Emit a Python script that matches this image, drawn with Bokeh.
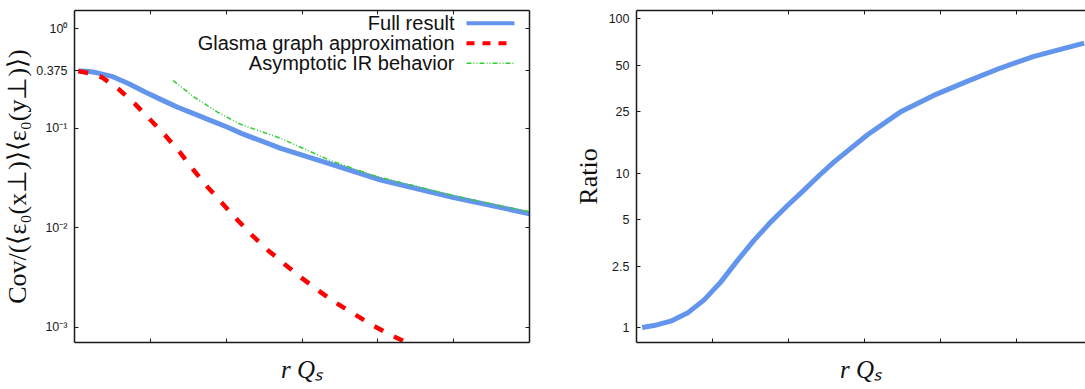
from bokeh.plotting import figure
from bokeh.models import (FixedTicker, LinearAxis, LogAxis, Range1d, Label, Arrow,
                          CustomJSTickFormatter)
from bokeh.layouts import row
from bokeh.embed import file_html
from bokeh.resources import INLINE

# ---------------- data ----------------
x_full = [0.05, 0.15, 0.27, 0.49, 0.71, 0.93, 1.15, 1.36, 1.58, 1.80, 2.02, 2.20,
          2.72, 3.38, 4.04, 5.00, 6.00]
full = [0.375, 0.372, 0.363, 0.331, 0.280, 0.230, 0.192, 0.162, 0.139, 0.119, 0.102,
        0.0885, 0.0625, 0.0435, 0.0301, 0.0201, 0.0138]

x_glasma = [0.05, 0.20, 0.36, 0.58, 0.79, 0.99, 1.20, 1.39, 1.57, 1.76, 1.96, 2.15,
            2.35, 2.55, 2.77, 2.99, 3.21, 3.43, 3.67, 3.90, 4.14, 4.36, 4.50]
glasma = [0.375, 0.355, 0.324, 0.247, 0.177, 0.1235, 0.0839, 0.057, 0.0379, 0.0253,
          0.0172, 0.0119, 0.00826, 0.00594, 0.0043, 0.00315, 0.00235, 0.00179,
          0.00138, 0.00108, 0.000855, 0.000715, 0.00063]

x_ir = [1.30, 1.58, 1.89, 2.18, 2.72, 3.38, 3.95, 5.00, 6.00]
ir = [0.300, 0.204, 0.144, 0.110, 0.0788, 0.047, 0.0332, 0.0209, 0.0144]

x_ratio = [0.075, 0.23, 0.45, 0.67, 0.89, 1.105, 1.325, 1.54, 1.76, 1.98, 2.20, 2.40,
           2.60, 3.04, 3.47, 3.91, 4.35, 4.79, 5.23, 5.89]
ratio = [1.0, 1.03, 1.10, 1.24, 1.51, 1.96, 2.70, 3.64, 4.78, 6.12, 7.73, 9.6,
         11.8, 17.7, 24.8, 31.8, 39.2, 47.8, 56.9, 69.3]

x_ticks = [1, 2, 3, 4, 5]
cov_ticks = [0.001, 0.01, 0.1, 0.375, 1]
cov_tick_labels = {0.001: "10⁻³", 0.01: "10⁻²", 0.1: "10⁻¹", 0.375: "0.375", 1: "10⁰"}
ratio_ticks = [1, 2.5, 5, 10, 25, 50, 100]
ratio_tick_labels = {1: "1", 2.5: "2.5", 5: "5", 10: "10", 25: "25", 50: "50", 100: "100"}

legend_labels = ["Full result", "Glasma graph approximation", "Asymptotic IR behavior"]

# ---------------- styles ----------------
BLUE = "#6495ED"
RED = "#FF0000"
GREEN = "#33CC33"
AX = "#1a1a1a"
SANS = "Liberation Sans"
SERIF = "Liberation Serif"
H = 388


def style_axis(ax, show_labels=True):
    ax.major_tick_in = 4
    ax.major_tick_out = 0
    ax.minor_tick_in = 0
    ax.minor_tick_out = 0
    ax.axis_line_color = AX
    ax.axis_line_width = 1.5
    ax.major_tick_line_color = AX
    ax.major_tick_line_width = 1
    ax.major_label_text_font = SANS
    ax.major_label_text_font_size = "12.5px"
    ax.major_label_text_color = AX
    ax.major_label_standoff = 7
    if not show_labels:
        ax.formatter = CustomJSTickFormatter(code="return ''")
        ax.major_label_standoff = 0


def base_fig(width, left, right, top, bottom, x_end, y_start, y_end):
    p = figure(width=width, height=H, y_axis_type="log",
               x_range=Range1d(0, x_end), y_range=Range1d(y_start, y_end),
               output_backend="svg", toolbar_location=None,
               min_border_left=left, min_border_right=right,
               min_border_top=top, min_border_bottom=bottom)
    p.grid.visible = False
    p.outline_line_color = None
    p.background_fill_color = "white"
    p.border_fill_color = "white"
    p.xaxis.ticker = FixedTicker(ticks=x_ticks)
    style_axis(p.xaxis[0], show_labels=False)
    p.xaxis.axis_label = "r Qₛ"
    p.xaxis.axis_label_text_font = SERIF
    p.xaxis.axis_label_text_font_style = "italic"
    p.xaxis.axis_label_text_font_size = "25px"
    p.xaxis.axis_label_text_color = "#111111"
    p.xaxis.axis_label_standoff = 13
    style_axis(p.yaxis[0])
    p.yaxis.axis_label_text_font = SERIF
    p.yaxis.axis_label_text_font_style = "normal"
    p.yaxis.axis_label_text_color = "#111111"
    top_ax = LinearAxis(ticker=FixedTicker(ticks=x_ticks))
    style_axis(top_ax, show_labels=False)
    p.add_layout(top_ax, "above")
    return p


# ---------------- left panel ----------------
p1 = base_fig(543, 73, 14, 10, 46, 6, 7.02e-4, 1.517)
p1.yaxis.ticker = FixedTicker(ticks=cov_ticks)
p1.yaxis.major_label_overrides = cov_tick_labels
p1.yaxis.axis_label = "Cov/(⟨ε₀(x⊥)⟩⟨ε₀(y⊥)⟩)"
p1.yaxis.axis_label_text_font_size = "26px"
p1.yaxis.axis_label_standoff = 1
right_ax = LogAxis(ticker=FixedTicker(ticks=cov_ticks))
style_axis(right_ax, show_labels=False)
p1.add_layout(right_ax, "right")

p1.line(x_full, full, line_color=BLUE, line_width=5, line_join="round")
p1.line(x_glasma, glasma, line_color=RED, line_width=4.5, line_dash="10 12")
p1.line(x_ir, ir, line_color=GREEN, line_width=1.5, line_dash="5 2 1 2 1 2")

# legend (text right-aligned, sample on the right, like the original)
leg_styles = [(BLUE, 4, "solid"), (RED, 4, "8 8"), (GREEN, 1.5, "5 2 1 2 1 2")]
frame_h = H - 10 - 46
for i, (lab, (col, lw, dash)) in enumerate(zip(legend_labels, leg_styles)):
    yy = frame_h - (12.7 + 20 * i)
    p1.add_layout(Label(x=380, y=yy, x_units="screen", y_units="screen", text=lab,
                        text_align="right", text_baseline="middle",
                        text_font=SANS, text_font_size="20px", text_color="#111111"))
    p1.add_layout(Arrow(x_start=392, y_start=yy, x_end=440, y_end=yy,
                        start_units="screen", end_units="screen", end=None,
                        line_color=col, line_width=lw, line_dash=dash))

# ---------------- right panel ----------------
p2 = base_fig(542, 93, 0, 9, 46, 449 / 76, 0.80, 112.7)
p2.yaxis.ticker = FixedTicker(ticks=ratio_ticks)
p2.yaxis.major_label_overrides = ratio_tick_labels
p2.yaxis.axis_label = "Ratio"
p2.yaxis.axis_label_text_font_size = "26px"
p2.yaxis.axis_label_standoff = 3
p2.line(x_ratio, ratio, line_color=BLUE, line_width=5, line_join="round")

layout = row(p1, p2)
open("out.html", "w").write(file_html(layout, INLINE))
